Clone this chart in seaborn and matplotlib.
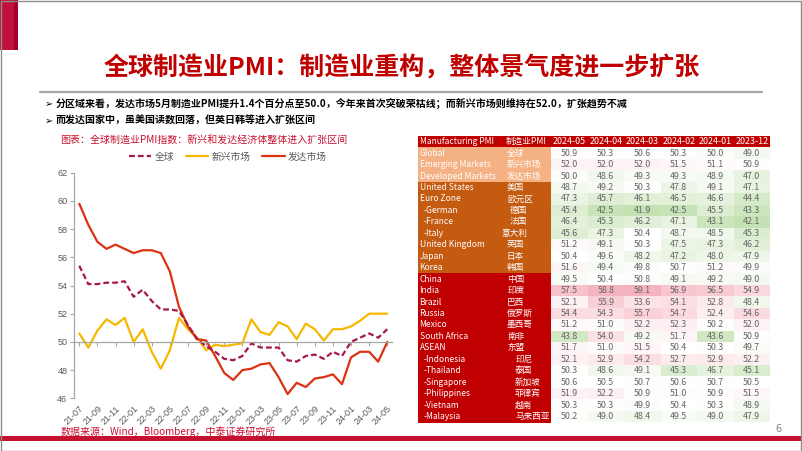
import numpy as np
import pandas as pd
import matplotlib
matplotlib.use("Agg")
import matplotlib.pyplot as plt
from matplotlib.patches import Rectangle
from matplotlib.colors import LinearSegmentedColormap, TwoSlopeNorm
from matplotlib.lines import Line2D
import seaborn as sns

# ---------------- data ----------------
months = ["21-07", "21-08", "21-09", "21-10", "21-11", "21-12",
          "22-01", "22-02", "22-03", "22-04", "22-05", "22-06",
          "22-07", "22-08", "22-09", "22-10", "22-11", "22-12",
          "23-01", "23-02", "23-03", "23-04", "23-05", "23-06",
          "23-07", "23-08", "23-09", "23-10", "23-11", "23-12",
          "24-01", "24-02", "24-03", "24-04", "24-05"]
global_pmi = [55.4, 54.1, 54.1, 54.2, 54.2, 54.3, 53.2, 53.7, 52.9, 52.3, 52.3, 52.2,
              51.2, 50.2, 49.7, 49.3, 48.8, 48.7, 49.0, 49.9, 49.6, 49.6, 49.6, 48.7,
              48.6, 49.0, 49.1, 48.8, 49.3, 49.0, 50.0, 50.3, 50.6, 50.3, 50.9]
emerging_pmi = [50.6, 49.6, 50.8, 51.6, 51.2, 51.7, 50.0, 50.9, 49.3, 48.1, 49.4, 51.7,
                50.9, 50.3, 49.4, 49.8, 49.7, 49.8, 49.9, 51.6, 50.7, 50.5, 51.4, 51.1,
                50.2, 51.3, 50.9, 50.1, 50.9, 50.9, 51.1, 51.5, 52.0, 52.0, 52.0]
developed_pmi = [59.8, 58.3, 57.1, 56.6, 56.9, 56.6, 56.3, 56.5, 56.5, 56.3, 55.0, 52.5,
                 51.1, 50.2, 50.1, 49.0, 47.8, 47.3, 48.0, 48.1, 48.4, 48.5, 47.5, 46.3,
                 47.1, 46.8, 47.4, 47.5, 47.7, 47.0, 48.9, 49.3, 49.3, 48.6, 50.0]
series_names = ["全球", "新兴市场", "发达市场"]

regions_en = ["Global", "Emerging Markets", "Developed Markets", "United States", "Euro Zone",
              "-German", "-France", "-Italy", "United Kingdom", "Japan", "Korea",
              "China", "India", "Brazil", "Russia", "Mexico", "South Africa",
              "ASEAN", "-Indonesia", "-Thailand", "-Singapore", "-Philippines",
              "-Vietnam", "-Malaysia"]
regions_cn = ["全球", "新兴市场", "发达市场", "美国", "欧元区", "德国", "法国", "意大利",
              "英国", "日本", "韩国", "中国", "印度", "巴西", "俄罗斯", "墨西哥", "南非",
              "东盟", "印尼", "泰国", "新加坡", "菲律宾", "越南", "马来西亚"]
table_dates = ["2024-05", "2024-04", "2024-03", "2024-02", "2024-01", "2023-12"]
pmi_2024_05 = [50.9, 52.0, 50.0, 48.7, 47.3, 45.4, 46.4, 45.6, 51.2, 50.4, 51.6,
               49.5, 57.5, 52.1, 54.4, 51.2, 43.8, 51.7, 52.1, 50.3, 50.6, 51.9, 50.3, 50.2]
pmi_2024_04 = [50.3, 52.0, 48.6, 49.2, 45.7, 42.5, 45.3, 47.3, 49.1, 49.6, 49.4,
               50.4, 58.8, 55.9, 54.3, 51.0, 54.0, 51.0, 52.9, 48.6, 50.5, 52.2, 50.3, 49.0]
pmi_2024_03 = [50.6, 52.0, 49.3, 50.3, 46.1, 41.9, 46.2, 50.4, 50.3, 48.2, 49.8,
               50.8, 59.1, 53.6, 55.7, 52.2, 49.2, 51.5, 54.2, 49.1, 50.7, 50.9, 49.9, 48.4]
pmi_2024_02 = [50.3, 51.5, 49.3, 47.8, 46.5, 42.5, 47.1, 48.7, 47.5, 47.2, 50.7,
               49.1, 56.9, 54.1, 54.7, 52.3, 51.7, 50.4, 52.7, 45.3, 50.6, 51.0, 50.4, 49.5]
pmi_2024_01 = [50.0, 51.1, 48.9, 49.1, 46.6, 45.5, 43.1, 48.5, 47.3, 48.0, 51.2,
               49.2, 56.5, 52.8, 52.4, 50.2, 43.6, 50.3, 52.9, 46.7, 50.7, 50.9, 50.3, 49.0]
pmi_2023_12 = [49.0, 50.9, 47.0, 47.1, 44.4, 43.3, 42.1, 45.3, 46.2, 47.9, 49.9,
               49.0, 54.9, 48.4, 54.6, 52.0, 50.9, 49.7, 52.2, 45.1, 50.5, 51.5, 48.9, 47.9]

# ---------------- style ----------------
sns.set_theme(style="white")
plt.rcParams["font.family"] = ["Noto Sans CJK SC", "DejaVu Sans"]
plt.rcParams["axes.unicode_minus"] = False

W, H = 802, 451
fig = plt.figure(figsize=(W / 100, H / 100), dpi=100)
fig.patch.set_facecolor("white")


def fx(x):
    return x / W


def fy(y):
    return 1 - y / H


def frect(x0, y0, x1, y1, **kw):
    fig.patches.append(Rectangle((fx(x0), fy(y1)), (x1 - x0) / W, (y1 - y0) / H,
                                 transform=fig.transFigure, **kw))


# slide decorations
frect(0, 0, 14, 50, facecolor="#C0123C", edgecolor="none")
frect(14, 0, 18, 50, facecolor="#A0002A", edgecolor="none")
frect(0, 436, W, 441, facecolor="#C41230", edgecolor="none")
fig.patches.append(Rectangle((0.0008, 0.001), 0.998, 0.997, transform=fig.transFigure,
                             facecolor="none", edgecolor="#8C8C8C", lw=1.0))
fig.add_artist(Line2D([fx(40), fx(762)], [fy(92), fy(92)], transform=fig.transFigure,
                      color="#A6A6A6", lw=1.6))

fig.text(fx(402), fy(68), "全球制造业PMI：制造业重构，整体景气度进一步扩张",
         ha="center", va="center", fontsize=18, fontweight="bold", color="#C00000")

fig.text(fx(45), fy(103.5), "➢", family="DejaVu Sans", fontsize=7, ha="left", va="center", color="black")
fig.text(fx(56), fy(103.5), "分区域来看，发达市场5月制造业PMI提升1.4个百分点至50.0，今年来首次突破荣枯线；而新兴市场则维持在52.0，扩张趋势不减",
         fontsize=7.2, fontweight="bold", ha="left", va="center", color="black")
fig.text(fx(45), fy(121), "➢", family="DejaVu Sans", fontsize=7, ha="left", va="center", color="black")
fig.text(fx(56), fy(121), "而发达国家中，虽美国读数回落，但英日韩等进入扩张区间",
         fontsize=7.2, fontweight="bold", ha="left", va="center", color="black")

fig.text(fx(60), fy(141), "图表：全球制造业PMI指数：新兴和发达经济体整体进入扩张区间",
         fontsize=7.2, style="italic", ha="left", va="center", color="#C8102E")
fig.text(fx(61), fy(432), "数据来源：Wind，Bloomberg，中泰证券研究所",
         fontsize=7.2, style="italic", ha="left", va="center", color="#C8102E")
fig.text(fx(778), fy(429), "6", fontsize=7, ha="center", va="center", color="#7F7F7F",
         family="DejaVu Sans")

# ---------------- line chart ----------------
ax = fig.add_axes([fx(74.3), fy(398.3), (391.8 - 74.3) / W, (398.3 - 172.7) / H])
idx = np.arange(len(months))
df = pd.DataFrame({"idx": idx, "全球": global_pmi, "新兴市场": emerging_pmi, "发达市场": developed_pmi})
colors = {"全球": "#A8174A", "新兴市场": "#F5B800", "发达市场": "#DC3212"}
sns.lineplot(data=df, x="idx", y="新兴市场", ax=ax, color=colors["新兴市场"], lw=1.6, label="新兴市场")
sns.lineplot(data=df, x="idx", y="发达市场", ax=ax, color=colors["发达市场"], lw=1.6, label="发达市场")
sns.lineplot(data=df, x="idx", y="全球", ax=ax, color=colors["全球"], lw=1.6, label="全球")
for ln in ax.get_lines():
    if ln.get_label() == "全球":
        ln.set_dashes((2.6, 1.4))
ax.set_xlim(-0.55, len(months) - 0.5)
ax.set_ylim(46, 62)
ax.set_yticks(range(46, 63, 2))
ax.set_xlabel("")
ax.set_ylabel("")
ax.patch.set_alpha(0)
for s in ["top", "right"]:
    ax.spines[s].set_visible(False)
ax.spines["left"].set_color("#A6A6A6")
ax.spines["left"].set_linewidth(0.9)
ax.spines["bottom"].set_position(("data", 50))
ax.spines["bottom"].set_color("#A6A6A6")
ax.spines["bottom"].set_linewidth(0.9)
ax.set_xticks(idx[::2])
ax.tick_params(axis="x", length=3, color="#A6A6A6", width=0.8, labelbottom=False, bottom=True, direction="out")
ax.tick_params(axis="y", length=3, color="#A6A6A6", width=0.8, labelsize=6.5,
               labelcolor="#595959", pad=2, left=True, direction="out")
for t in ax.get_yticklabels():
    t.set_family("Liberation Sans")

ax2 = ax.twiny()
ax2.set_xlim(ax.get_xlim())
ax2.xaxis.set_ticks_position("bottom")
ax2.xaxis.set_label_position("bottom")
ax2.set_xticks(idx[::2])
ax2.set_xticklabels(months[::2], rotation=45, ha="right", rotation_mode="anchor",
                    fontsize=6.5, color="#595959", family="Liberation Sans")
ax2.tick_params(axis="x", length=0, pad=4)
for s in ax2.spines.values():
    s.set_visible(False)

handles = [Line2D([], [], color=colors["全球"], lw=1.6, dashes=(2.6, 1.4)),
           Line2D([], [], color=colors["新兴市场"], lw=1.6),
           Line2D([], [], color=colors["发达市场"], lw=1.6)]
ax.legend(handles, series_names, loc="center", bbox_to_anchor=(fx(228), fy(156.7)),
          bbox_transform=fig.transFigure, ncol=3, frameon=False, fontsize=7,
          handlelength=2.3, handletextpad=0.35, columnspacing=1.2, labelcolor="#595959")

# ---------------- table ----------------
row_h = 11.45
top = 136.0
x_left, x_mid, x_num, x_right = 418, 551, 551, 770
n_rows = len(regions_en)
frect(x_left, top, x_right, top + row_h, facecolor="#C00000", edgecolor="none")
for i in range(n_rows):
    y0 = top + (i + 1) * row_h
    if i < 3:
        c = "#F4B183"
    elif i < 11:
        c = "#C55A11"
    else:
        c = "#C00000"
    frect(x_left, y0, x_mid, y0 + row_h + 0.3, facecolor=c, edgecolor="none")

tfs = 6.4
efs = 6.1
cfs = 6.2
fig.text(fx(419.5), fy(top + row_h / 2), "Manufacturing PMI", color="white", fontsize=efs,
         ha="left", va="center")
fig.text(fx(506), fy(top + row_h / 2), "制造业PMI", color="white", fontsize=cfs, ha="left", va="center")
col_w = (x_right - x_num) / len(table_dates)
for j, d in enumerate(table_dates):
    fig.text(fx(x_num + (j + 0.5) * col_w), fy(top + row_h / 2), d, color="white", fontsize=tfs,
             ha="center", va="center")

for i, (en, cn) in enumerate(zip(regions_en, regions_cn)):
    yc = top + (i + 1.5) * row_h
    if en.startswith("-"):
        fig.text(fx(424), fy(yc), en, color="white", fontsize=efs, ha="left", va="center")
        if i < 11:
            fig.text(fx(527), fy(yc), cn, color="white", fontsize=cfs, ha="right", va="center")
        else:
            fig.text(fx(515), fy(yc), cn, color="white", fontsize=cfs, ha="left", va="center")
    else:
        fig.text(fx(419.5), fy(yc), en, color="white", fontsize=efs, ha="left", va="center")
        fig.text(fx(507), fy(yc), cn, color="white", fontsize=cfs, ha="left", va="center")

tbl = pd.DataFrame({"2024-05": pmi_2024_05, "2024-04": pmi_2024_04, "2024-03": pmi_2024_03,
                    "2024-02": pmi_2024_02, "2024-01": pmi_2024_01, "2023-12": pmi_2023_12},
                   index=regions_en)
axt = fig.add_axes([fx(x_num), fy(top + (n_rows + 1) * row_h), (x_right - x_num) / W,
                    n_rows * row_h / H])
cmap = LinearSegmentedColormap.from_list("pmi", ["#C4E1B2", "#FFFFFF", "#F5B3BE"])
vals = tbl.values
norm = TwoSlopeNorm(vmin=vals.min(), vcenter=50.5, vmax=vals.max())
sns.heatmap(tbl, ax=axt, cmap=cmap, norm=norm, annot=True, fmt=".1f", cbar=False,
            annot_kws={"size": tfs, "color": "#666666"}, xticklabels=False, yticklabels=False)
axt.set_xlabel("")
axt.set_ylabel("")

fig.savefig("out.png", dpi=100)
